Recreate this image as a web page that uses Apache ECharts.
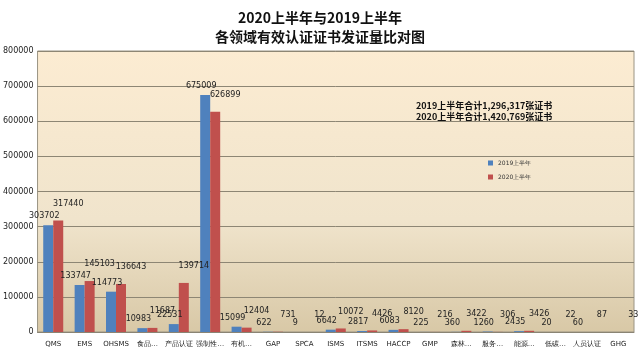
<!DOCTYPE html>
<html>
<head>
<meta charset="utf-8">
<script src="https://cdn.jsdelivr.net/npm/echarts@6/dist/echarts.min.js"></script>
<style>
  html, body { margin: 0; padding: 0; background: #fff; }
  #chart { width: 640px; height: 352px; }
</style>
</head>
<body>
<div id="chart"></div>
<script>
  // 各领域名称
  var categories = ['QMS', 'EMS', 'OHSMS', '食品…', '产品认证', '强制性…', '有机…', 'GAP', 'SPCA', 'ISMS',
    'ITSMS', 'HACCP', 'GMP', '森林…', '服务…', '能源…', '低碳…', '人员认证', 'GHG'];
  var data2019 = [303702, 133747, 114773, 10983, 22531, 675009, 15099, 622, 9, 6642,
    2817, 6083, 225, 360, 1260, 2435, 20, 60, null];
  var data2020 = [317440, 145103, 136643, 11687, 139714, 626899, 12404, 731, 12, 10072,
    4426, 8120, 216, 3422, 306, 3426, 22, 87, 33];
  var yTicks = [0, 100000, 200000, 300000, 400000, 500000, 600000, 700000, 800000];
  var titleLines = ['2020上半年与2019上半年', '各领域有效认证证书发证量比对图'];
  var noteLines = ['2019上半年合计1,296,317张证书', '2020上半年合计1,420,769张证书'];
  var seriesNames = ['2019上半年', '2020上半年'];

  var chart = echarts.init(document.getElementById('chart'));
  var labelFont = 'DejaVu Sans, sans-serif';

  var option = {
    backgroundColor: '#fff',
    animation: false,
    title: {
      text: titleLines.join('\n'),
      left: 'center',
      top: 3,
      textStyle: {
        fontFamily: 'Noto Sans CJK SC',
        fontSize: 14,
        fontWeight: 'bold',
        color: '#111',
        lineHeight: 19
      }
    },
    legend: {
      orient: 'vertical',
      left: 483,
      top: 155,
      icon: 'rect',
      itemWidth: 5,
      itemHeight: 5,
      itemGap: 8,
      data: seriesNames,
      textStyle: { fontSize: 6, color: '#333', fontFamily: labelFont }
    },
    graphic: [{
      type: 'text',
      left: 416,
      top: 100,
      style: {
        text: noteLines.join('\n'),
        font: 'bold 9px "Noto Sans CJK SC"',
        lineHeight: 11,
        fill: '#111'
      }
    }],
    grid: {
      left: 36,
      right: 6,
      top: 51,
      bottom: 20,
      show: true,
      borderColor: '#9a9484',
      borderWidth: 1,
      backgroundColor: new echarts.graphic.LinearGradient(0, 0, 0, 1, [
        { offset: 0, color: '#fcecd2' },
        { offset: 0.6, color: '#f0e4cc' },
        { offset: 1, color: '#d8c8a6' }
      ])
    },
    xAxis: {
      type: 'category',
      data: categories,
      axisLine: { lineStyle: { color: '#8a8474' } },
      axisTick: { show: false },
      axisLabel: {
        interval: 0,
        fontSize: 7,
        color: '#222',
        fontFamily: labelFont,
        margin: 9
      }
    },
    yAxis: {
      type: 'value',
      min: 0,
      max: 800000,
      interval: 100000,
      axisLine: { show: false },
      axisTick: { show: false },
      splitLine: { lineStyle: { color: '#8d8674', width: 1 } },
      axisLabel: {
        fontSize: 8,
        color: '#222',
        fontFamily: labelFont,
        margin: 4,
        formatter: function (v) { return yTicks.indexOf(v) >= 0 ? String(v) : ''; }
      }
    },
    series: [{
      name: seriesNames[0],
      type: 'bar',
      barWidth: 10,
      barGap: '0%',
      barCategoryGap: '35%',
      itemStyle: { color: '#4f81bd' },
      label: {
        show: true,
        position: 'top',
        offset: [-4, 0],
        fontSize: 8,
        color: '#222',
        fontFamily: labelFont
      },
      data: data2019
    }, {
      name: seriesNames[1],
      type: 'bar',
      barWidth: 10,
      itemStyle: { color: '#c0504d' },
      label: {
        show: true,
        position: 'top',
        offset: [10, -8],
        fontSize: 8,
        color: '#222',
        fontFamily: labelFont
      },
      data: data2020
    }]
  };
  chart.setOption(option);
</script>
</body>
</html>
